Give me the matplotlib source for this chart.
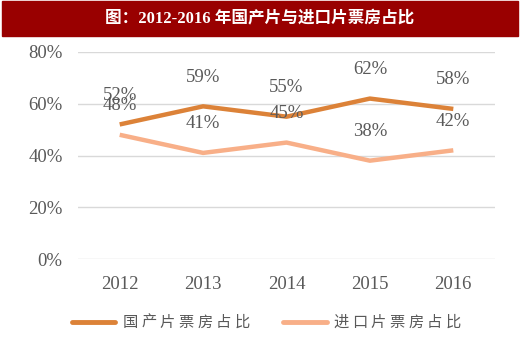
import matplotlib
matplotlib.use('Agg')
import matplotlib.pyplot as plt
from matplotlib.lines import Line2D
from matplotlib.patches import Rectangle

# data
years = ['2012', '2013', '2014', '2015', '2016']
domestic = [0.52, 0.59, 0.55, 0.62, 0.58]
imported = [0.48, 0.41, 0.45, 0.38, 0.42]
yticks = [0, 0.2, 0.4, 0.6, 0.8]
ytick_labels = ['0%', '20%', '40%', '60%', '80%']
title = '图：2012-2016 年国产片与进口片票房占比'
series_names = ['国产片票房占比', '进口片票房占比']

c_dom = '#DC8238'
c_imp = '#F8AF88'
grey = '#595959'
serif = ['Liberation Serif', 'DejaVu Serif']

fig = plt.figure(figsize=(5.2, 3.47), dpi=100)

# title bar
fig.add_artist(Rectangle((2 / 520, 1 - 36 / 347), 516 / 520, 35 / 347,
                         transform=fig.transFigure, color='#990000', zorder=0))
fig.text(0.5, 1 - 19 / 347, title, color='white', fontsize=12, fontweight='bold',
         family=['Liberation Serif', 'Noto Sans CJK SC'], ha='center', va='center')

ax = fig.add_axes([78 / 520, 1 - 259 / 347, 417 / 520, 207 / 347])
x = range(len(years))
ax.plot(x, domestic, color=c_dom, lw=3.2, solid_capstyle='butt', zorder=3)
ax.plot(x, imported, color=c_imp, lw=3.2, solid_capstyle='butt', zorder=3)

for i in x:
    ax.annotate(f'{domestic[i]:.0%}', (i, domestic[i]), xytext=(0, 21),
                textcoords='offset points', ha='center', va='center',
                fontsize=13.5, color=grey, family=serif, zorder=4)
    ax.annotate(f'{imported[i]:.0%}', (i, imported[i]), xytext=(0, 21),
                textcoords='offset points', ha='center', va='center',
                fontsize=13.5, color=grey, family=serif, zorder=4)

ax.set_xlim(-0.5, len(years) - 0.5)
ax.set_ylim(0, 0.8)
ax.set_yticks(yticks)
ax.set_yticklabels(ytick_labels)
ax.set_xticks(list(x))
ax.set_xticklabels(years)
ax.yaxis.grid(True, color='#D9D9D9', lw=1)
ax.set_axisbelow(True)
for s in ax.spines.values():
    s.set_visible(False)
ax.tick_params(length=0, labelsize=13.5, labelcolor=grey)
ax.tick_params(axis='x', pad=12)
ax.tick_params(axis='y', pad=11)
for lab in ax.get_xticklabels() + ax.get_yticklabels():
    lab.set_family(serif)

# legend drawn by hand to get the wide character spacing
leg_y = 1 - 322 / 347
for (x0, x1, tx), col, name in zip([(72, 115, 122), (283, 327, 333)],
                                   [c_dom, c_imp], series_names):
    fig.add_artist(Line2D([x0 / 520, x1 / 520], [leg_y, leg_y], color=col, lw=3.5,
                          solid_capstyle='round', transform=fig.transFigure))
    for k, ch in enumerate(name):
        fig.text((tx + 8 + k * 18.7) / 520, leg_y, ch, fontsize=11, color=grey,
                 family='Noto Sans CJK SC', ha='center', va='center')

fig.savefig('out.png', dpi=100)
